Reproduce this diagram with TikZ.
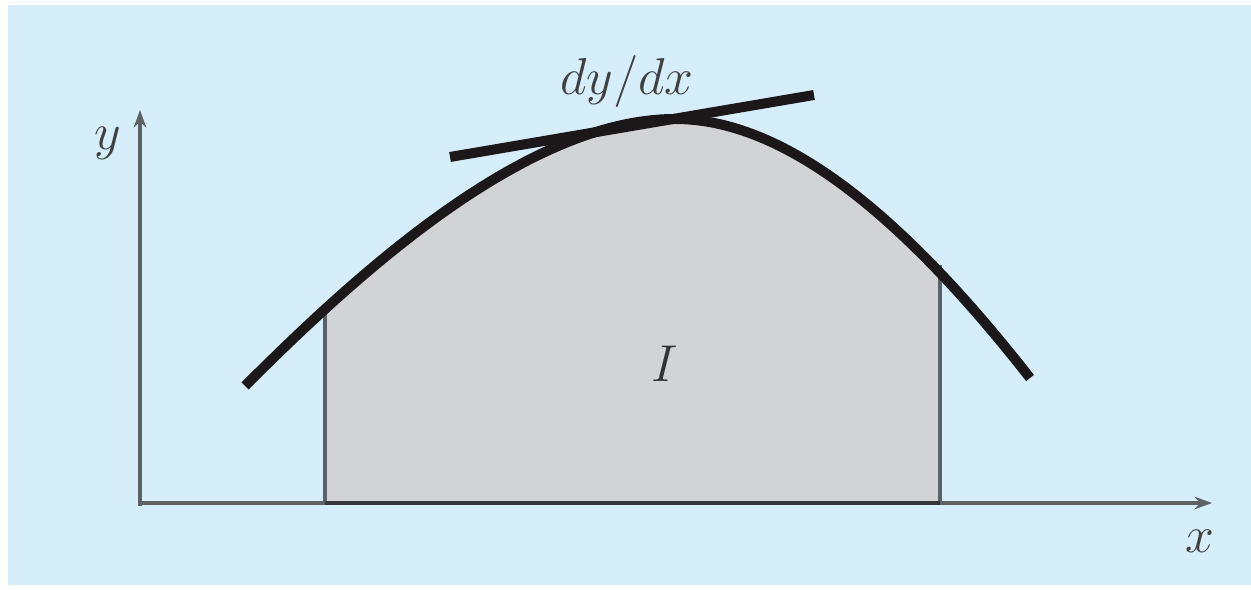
\documentclass[tikz,border=0pt]{standalone}
\usepackage{amssymb,amsmath}
\usepackage{color}
\usepackage{tikz}
\usetikzlibrary{arrows.meta}
\definecolor{skyback}{RGB}{214,238,250}
\definecolor{areagray}{RGB}{210,211,213}
\definecolor{axisgray}{RGB}{92,97,102}
\definecolor{basedark}{RGB}{55,55,58}
\definecolor{curveblack}{RGB}{28,24,25}

\begin{document}
\begin{tikzpicture}[x=0.4pt, y=-0.4pt, >={Stealth[length=7pt,width=5pt]}, font=\fontsize{20}{24}\selectfont,
		axis/.style={draw=axisgray, line width=1.5pt},
		bound/.style={draw=axisgray, line width=1.6pt},
		curve/.style={draw=curveblack, line width=4pt}]
		\useasboundingbox (0,0) rectangle (1251,590);
		\fill[skyback] (8,5) rectangle (1251,585);
		% shaded integral I between the two bounds
		\begin{scope}
			\clip (325,0) rectangle (940,503);
			\fill[areagray] (245,386) .. controls (355,276) and (525,119) .. (675,119)
				.. controls (775,119) and (890,199) .. (1030,378) -- (1030,503) -- (245,503) -- cycle;
		\end{scope}
		% axes
		\coordinate (O) at (140,503);
		\coordinate (xtip) at (1212,503);
		\coordinate (ytip) at (140,110);
		\draw[axis,->] (O) -- (xtip);
		\draw[axis,->] (140,506) -- (ytip);
		% bounds of the area
		\coordinate (a) at (325,503);
		\coordinate (b) at (940,503);
		\coordinate (fa) at (325,305);
		\coordinate (fb) at (940,265);
		\draw[bound] (a) -- (fa);
		\draw[bound] (b) -- (fb);
		\draw[bound, draw=basedark] (a) -- (b);
		% the function and its slope
		\draw[curve] (245,386) .. controls (355,276) and (525,119) .. (675,119)
			.. controls (775,119) and (890,199) .. (1030,378);
		\coordinate (t1) at (450,157);
		\coordinate (t2) at (814,95);
		\draw[curve] (t1) -- (t2);
		\node[anchor=base, text=black!75] (slope) at (627,95) {$dy/dx$};
		\node[anchor=base, text=black!75] (ylabel) at (108,150) {$y$};
		\node[anchor=base, text=black!75] (xlabel) at (1200,553) {$x$};
		\node[text=black!80] (area) at (665,364) {$I$};
	\end{tikzpicture}
\end{document}
